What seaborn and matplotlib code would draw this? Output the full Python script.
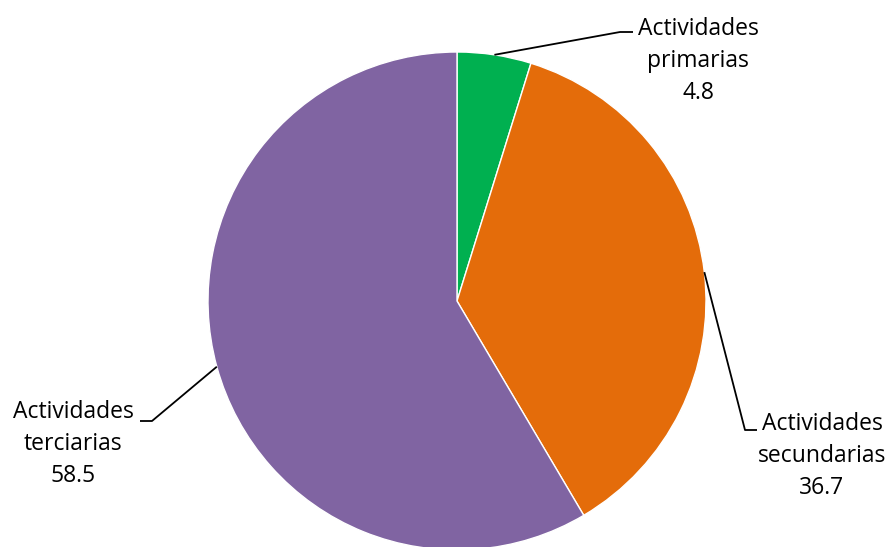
import numpy as np
import matplotlib
matplotlib.use("Agg")
import matplotlib.pyplot as plt
import seaborn as sns

# Datos del sector de actividad (%)
sectores = ["Actividades\nprimarias", "Actividades\nsecundarias", "Actividades\nterciarias"]
valores = [4.8, 36.7, 58.5]
colores = ["#00B050", "#E46C0A", "#8064A2"]

sns.set_theme(style="white")
plt.rcParams['font.family'] = ['Open Sans', 'DejaVu Sans']

fig = plt.figure(figsize=(8.93, 5.47), dpi=100)
ax = fig.add_axes([0, 0, 1, 1])

centro = (457, 246)
radio = 249
wedges, _ = ax.pie(valores, colors=colores, startangle=90, counterclock=False,
                   center=centro, radius=radio, frame=True,
                   wedgeprops=dict(edgecolor="white", linewidth=1))
ax.set_xlim(0, 893)
ax.set_ylim(0, 547)
ax.set_aspect("equal")
ax.axis("off")

# Posiciones de las etiquetas y codos de las líneas guía
etiquetas_pos = [(698, 486), (822, 91), (73, 103)]
codos = [((620, 515), (633, 515)), ((745, 117), (757, 117)), ((152, 126), (140, 126))]

for w, val, nombre, pos, codo in zip(wedges, valores, sectores, etiquetas_pos, codos):
    ang = np.deg2rad((w.theta1 + w.theta2) / 2)
    x0 = centro[0] + radio * np.cos(ang)
    y0 = centro[1] + radio * np.sin(ang)
    ax.plot([x0, codo[0][0], codo[1][0]], [y0, codo[0][1], codo[1][1]],
            color="black", lw=1.3, solid_capstyle="butt")
    ax.text(pos[0], pos[1], f"{nombre}\n{val}", ha="center", va="center",
            fontsize=16.5, color="black", linespacing=1.45)

fig.savefig("out.png", dpi=100)
